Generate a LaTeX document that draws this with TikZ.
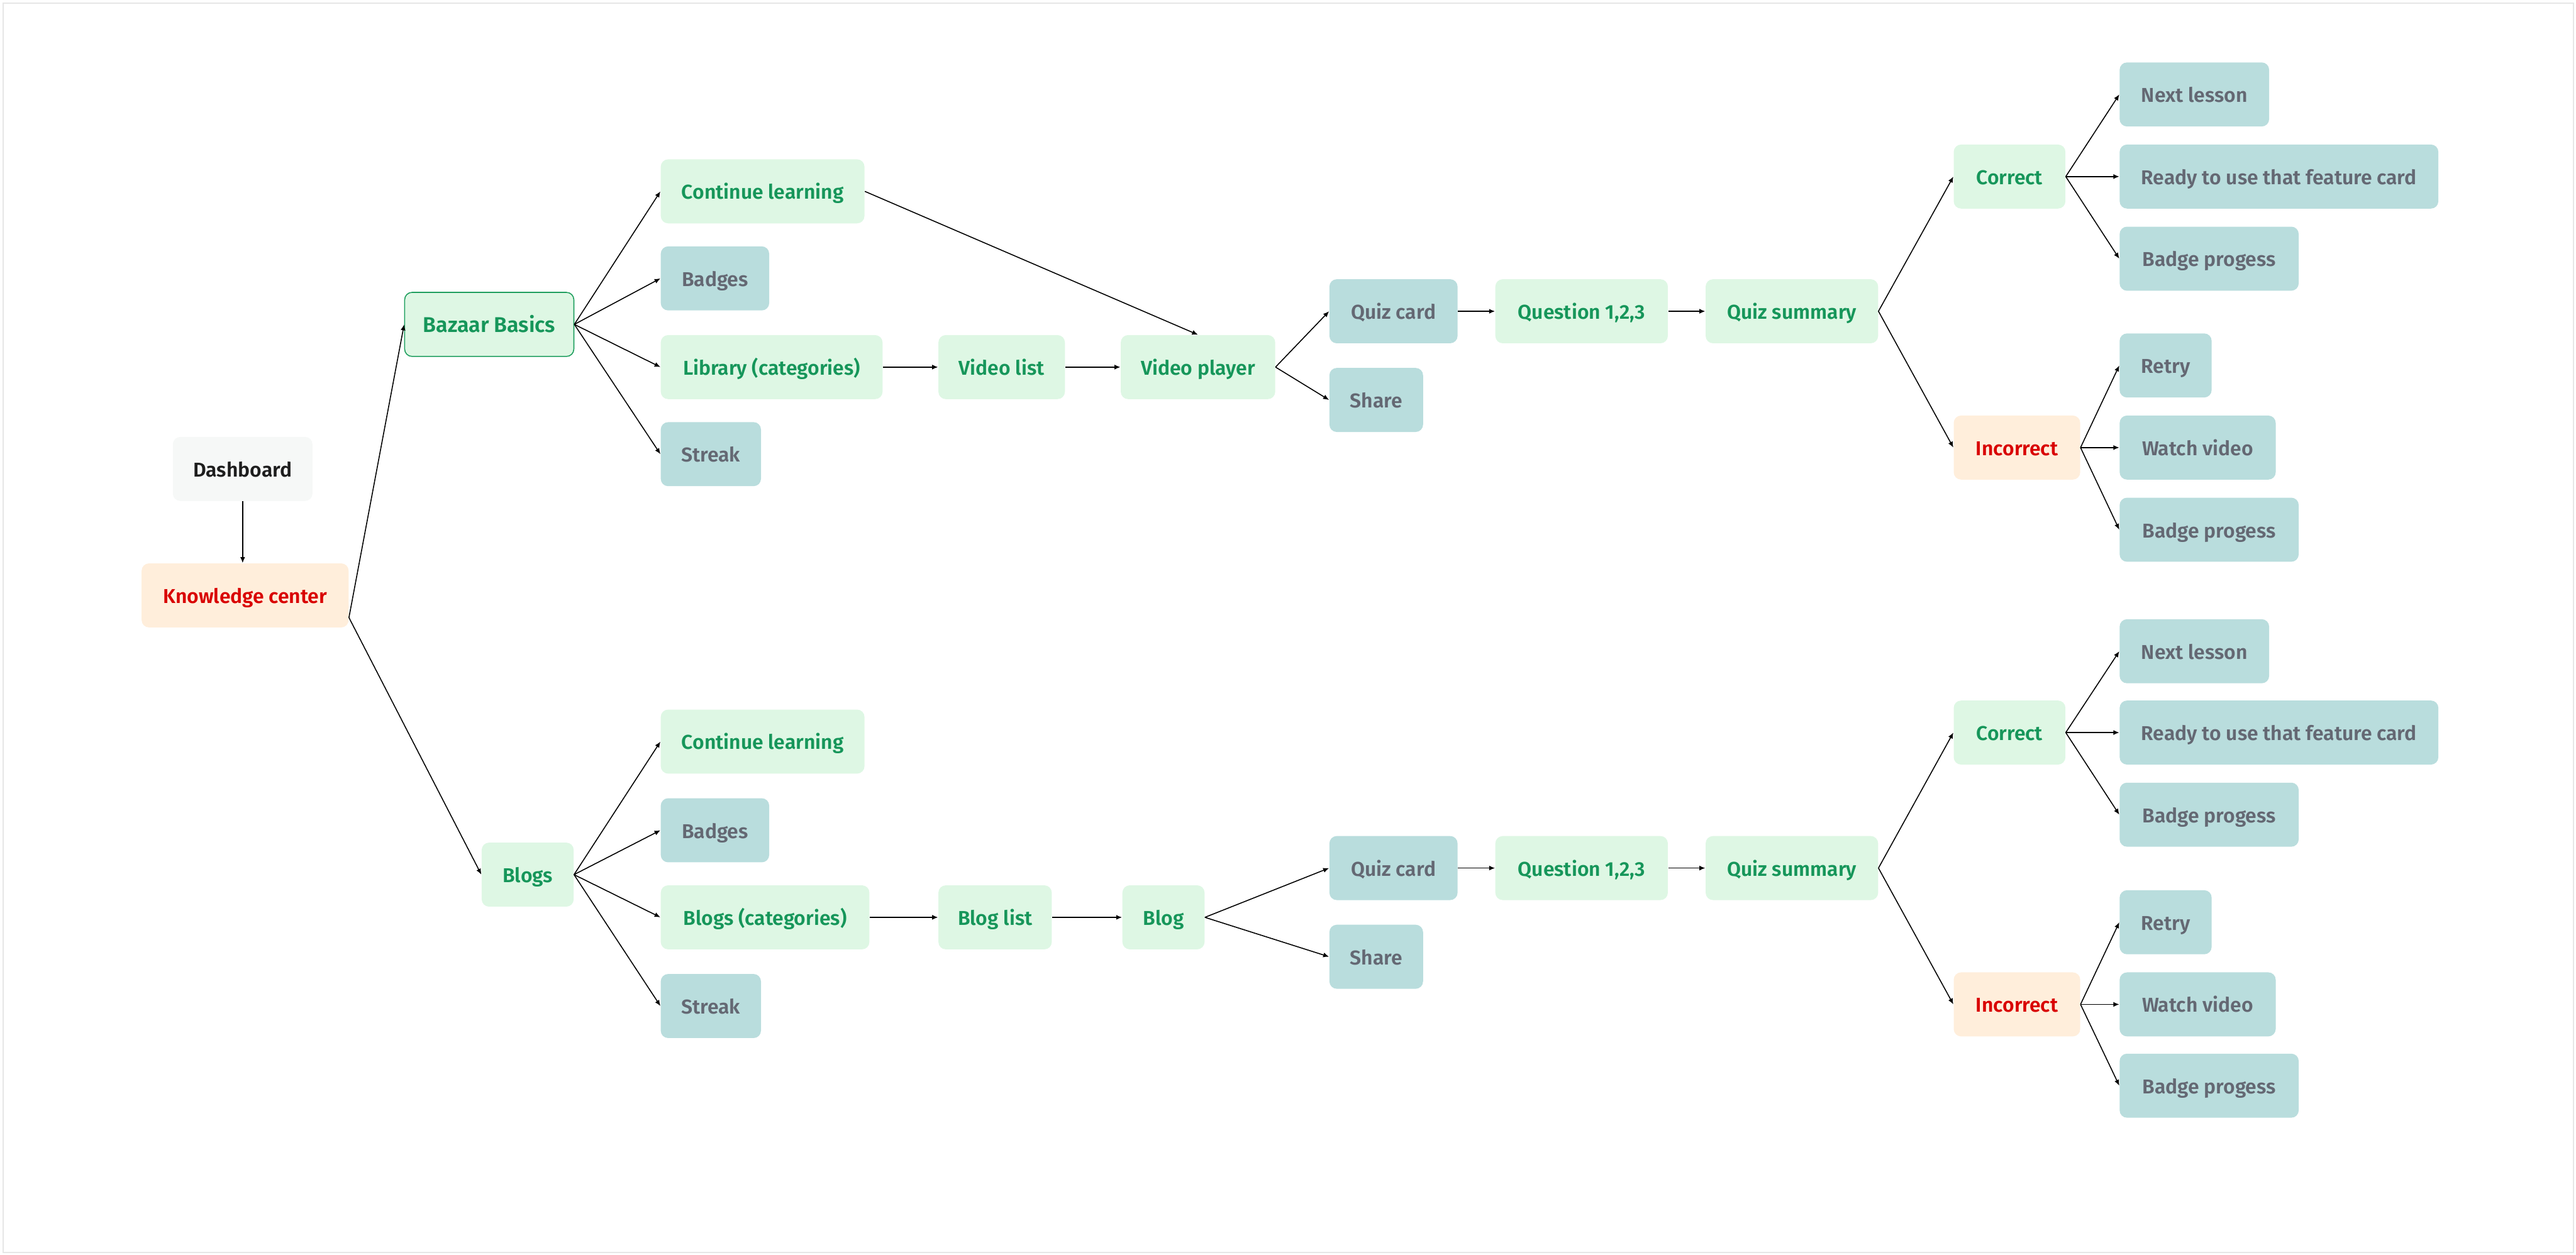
\documentclass[tikz,border=0pt]{standalone}
\usepackage{fontspec}
\setmainfont{Fira Sans}[UprightFont={* SemiBold}, BoldFont={* Bold}]
\usetikzlibrary{arrows.meta}
\definecolor{gfill}{RGB}{222,247,228}
\definecolor{gtext}{RGB}{22,150,90}
\definecolor{gborder}{RGB}{30,158,94}
\definecolor{tfill}{RGB}{185,221,221}
\definecolor{ttext}{RGB}{100,104,115}
\definecolor{ofill}{RGB}{255,238,219}
\definecolor{otext}{RGB}{217,0,0}
\definecolor{dfill}{RGB}{246,248,247}
\definecolor{dtext}{RGB}{30,30,30}
\definecolor{framecol}{RGB}{230,230,230}
\begin{document}
\begin{tikzpicture}[x=1pt,y=-1pt,
  box/.style={rectangle, rounded corners=4.5pt, minimum height=39pt, inner sep=0pt, anchor=west, text height=9.6pt, text depth=0pt, font=\fontsize{12.2}{14}\selectfont},
  gbox/.style={box, fill=gfill, text=gtext},
  tbox/.style={box, fill=tfill, text=ttext},
  obox/.style={box, fill=ofill, text=otext},
  dbox/.style={box, fill=dfill, text=dtext},
  conn/.style={draw=black, line width=0.6pt, -{Latex[length=3.6pt,width=3pt]}}]
\useasboundingbox (0,0) rectangle (1568,764);
\draw[framecol, line width=0.8pt] (1.8,1.8) rectangle (1566.5,762.5);

% left
\node[dbox, minimum width=85pt] (dash) at (105,285.5) {Dashboard};
\node[obox, minimum width=126pt] (kc) at (86,362.5) {Knowledge center};
\node[gbox, draw=gborder, line width=0.6pt, minimum width=103pt, font=\fontsize{13}{15}\selectfont] (bb) at (246,197.5) {Bazaar Basics};
\node[gbox, minimum width=56pt] (blogs) at (293,532.5) {Blogs};

% top section
\node[gbox, minimum width=124pt] (cl1) at (402,116.5) {Continue learning};
\node[tbox, minimum width=66pt] (bd1) at (402,169.5) {Badges};
\node[gbox, minimum width=135pt] (lib) at (402,223.5) {Library (categories)};
\node[tbox, minimum width=61pt] (st1) at (402,276.5) {Streak};
\node[gbox, minimum width=77pt] (vl) at (571,223.5) {Video list};
\node[gbox, minimum width=94pt] (vp) at (682,223.5) {Video player};
\node[tbox, minimum width=78pt] (qc1) at (809,189.5) {Quiz card};
\node[tbox, minimum width=57pt] (sh1) at (809,243.5) {Share};
\node[gbox, minimum width=105pt] (q1) at (910,189.5) {Question 1,2,3};
\node[gbox, minimum width=105pt] (qs1) at (1038,189.5) {Quiz summary};
\node[gbox, minimum width=68pt] (co1) at (1189,107.5) {Correct};
\node[obox, minimum width=77pt] (in1) at (1189,272.5) {Incorrect};
\node[tbox, minimum width=91pt] (nl1) at (1290,57.5) {Next lesson};
\node[tbox, minimum width=194pt] (rd1) at (1290,107.5) {Ready to use that feature card};
\node[tbox, minimum width=109pt] (bpa1) at (1290,157.5) {Badge progess};
\node[tbox, minimum width=56pt] (rt1) at (1290,222.5) {Retry};
\node[tbox, minimum width=95pt] (wv1) at (1290,272.5) {Watch video};
\node[tbox, minimum width=109pt] (bpb1) at (1290,322.5) {Badge progess};

% bottom section
\node[gbox, minimum width=124pt] (cl2) at (402,451.5) {Continue learning};
\node[tbox, minimum width=66pt] (bd2) at (402,505.5) {Badges};
\node[gbox, minimum width=127pt] (bcat) at (402,558.5) {Blogs (categories)};
\node[tbox, minimum width=61pt] (st2) at (402,612.5) {Streak};
\node[gbox, minimum width=69pt] (bl) at (571,558.5) {Blog list};
\node[gbox, minimum width=50pt] (blog) at (683,558.5) {Blog};
\node[tbox, minimum width=78pt] (qc2) at (809,528.5) {Quiz card};
\node[tbox, minimum width=57pt] (sh2) at (809,582.5) {Share};
\node[gbox, minimum width=105pt] (q2) at (910,528.5) {Question 1,2,3};
\node[gbox, minimum width=105pt] (qs2) at (1038,528.5) {Quiz summary};
\node[gbox, minimum width=68pt] (co2) at (1189,446) {Correct};
\node[obox, minimum width=77pt] (in2) at (1189,611.5) {Incorrect};
\node[tbox, minimum width=91pt] (nl2) at (1290,396.5) {Next lesson};
\node[tbox, minimum width=194pt] (rd2) at (1290,446) {Ready to use that feature card};
\node[tbox, minimum width=109pt] (bpa2) at (1290,496) {Badge progess};
\node[tbox, minimum width=56pt] (rt2) at (1290,561.5) {Retry};
\node[tbox, minimum width=95pt] (wv2) at (1290,611.5) {Watch video};
\node[tbox, minimum width=109pt] (bpb2) at (1290,661) {Badge progess};

% connectors
\coordinate (kco) at ([yshift=-13.5pt]kc.east);
\draw[conn] (dash.south) -- (dash.south |- kc.north);
\draw[conn] (kco) -- (bb.west);
\draw[conn] (kco) -- (blogs.west);
\foreach \t in {cl1,bd1,lib,st1} \draw[conn] (bb.east) -- (\t.west);
\foreach \t in {cl2,bd2,bcat,st2} \draw[conn] (blogs.east) -- (\t.west);
\draw[conn] (lib.east) -- (vl.west);
\draw[conn] (vl.east) -- (vp.west);
\draw[conn] (cl1.east) -- (vp.north);
\draw[conn] (vp.east) -- (qc1.west);
\draw[conn] (vp.east) -- (sh1.west);
\draw[conn] (bcat.east) -- (bl.west);
\draw[conn] (bl.east) -- (blog.west);
\draw[conn] (blog.east) -- (qc2.west);
\draw[conn] (blog.east) -- (sh2.west);
\foreach \i in {1,2} {
  \draw[conn] (qc\i.east) -- (q\i.west);
  \draw[conn] (q\i.east) -- (qs\i.west);
  \draw[conn] (qs\i.east) -- (co\i.west);
  \draw[conn] (qs\i.east) -- (in\i.west);
  \draw[conn] (co\i.east) -- (nl\i.west);
  \draw[conn] (co\i.east) -- (rd\i.west);
  \draw[conn] (co\i.east) -- (bpa\i.west);
  \draw[conn] (in\i.east) -- (rt\i.west);
  \draw[conn] (in\i.east) -- (wv\i.west);
  \draw[conn] (in\i.east) -- (bpb\i.west);
}
\end{tikzpicture}
\end{document}
